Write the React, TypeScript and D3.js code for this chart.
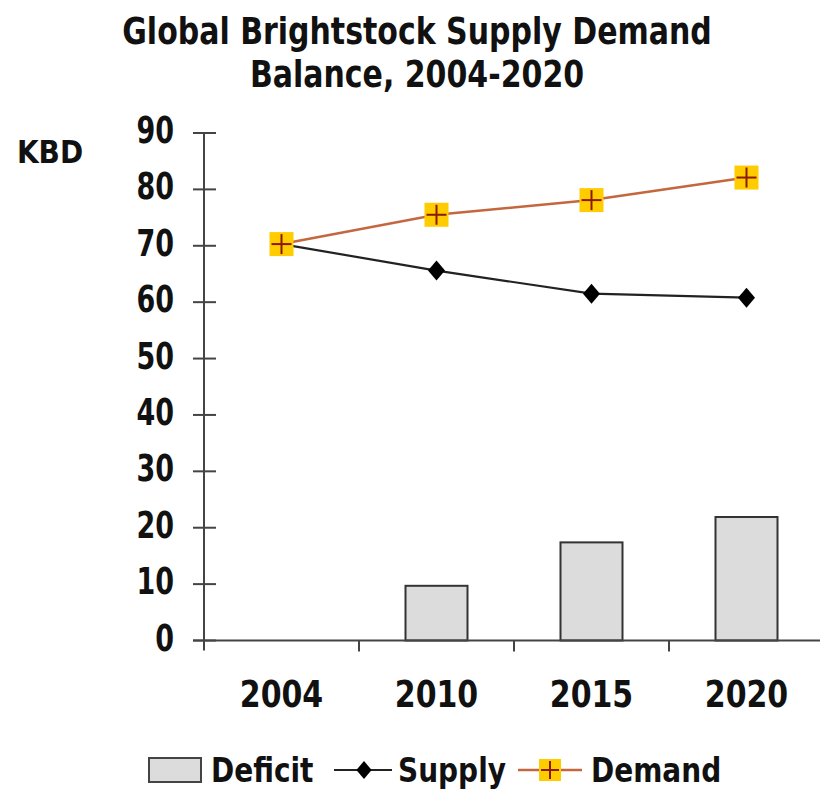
import React from "react";
import { scaleBand, scaleLinear, line } from "d3";

const years = ["2004", "2010", "2015", "2020"];
const deficit = [0, 9.7, 17.4, 21.9];
const supply = [70.3, 65.6, 61.5, 60.8];
const demand = [70.3, 75.5, 78.1, 82.1];
const yTicks = [0, 10, 20, 30, 40, 50, 60, 70, 80, 90];

const FONT = "'DejaVu Sans', Verdana, sans-serif";
const DEMAND_LINE = "#c4673f";
const GOLD = "#ffcc00";
const CROSS = "#8b1a00";

// stretched text, the reference is taller than it is wide
function Txt({ x, y, size, sy, anchor = "start", children }: any) {
  return (
    <text
      transform={`translate(${x},${y}) scale(1,${sy})`}
      fontSize={size}
      fontWeight="bold"
      fontFamily={FONT}
      textAnchor={anchor}
      fill="#111"
    >
      {children}
    </text>
  );
}

function Diamond({ x, y, r = 10 }: { x: number; y: number; r?: number }) {
  return <path d={`M${x},${y - r}L${x + r * 0.85},${y}L${x},${y + r}L${x - r * 0.85},${y}Z`} fill="#000" />;
}

function CrossBox({ x, y, s = 12 }: { x: number; y: number; s?: number }) {
  return (
    <g>
      <rect x={x - s} y={y - s} width={s * 2} height={s * 2} fill={GOLD} />
      <line x1={x - s + 2} x2={x + s - 2} y1={y} y2={y} stroke={CROSS} strokeWidth={2} />
      <line x1={x} x2={x} y1={y - s + 2} y2={y + s - 2} stroke={CROSS} strokeWidth={2} />
    </g>
  );
}

export default function App() {
  const x = scaleBand().domain(years).range([204, 824]);
  const y = scaleLinear().domain([0, 90]).range([640.5, 133]);
  const bw = x.bandwidth() * 0.4;
  const cx = (k: string) => x(k)! + x.bandwidth() / 2;

  const mk = line<number>()
    .x((_, i) => cx(years[i]))
    .y((d) => y(d));

  return (
    <svg width={820} height={789} style={{ position: "absolute", left: 0, top: 0, background: "#fff" }}>
      {/* Title */}
      <Txt x={417} y={44} size={30} sy={1.25} anchor="middle">Global Brightstock Supply Demand</Txt>
      <Txt x={417} y={87} size={30} sy={1.25} anchor="middle">Balance, 2004-2020</Txt>
      <Txt x={50} y={163} size={28} sy={1.15} anchor="middle">KBD</Txt>

      {/* Bars */}
      {deficit.map((d, i) =>
        d > 0 ? (
          <rect
            key={i}
            x={cx(years[i]) - bw / 2}
            y={y(d)}
            width={bw}
            height={y(0) - y(d)}
            fill="#dcdcdc"
            stroke="#333"
            strokeWidth={2}
          />
        ) : null
      )}

      {/* Axes */}
      <g stroke="#444" strokeWidth={2}>
        <line x1={204} x2={204} y1={y(90)} y2={y(0) + 10} />
        <line x1={193} x2={824} y1={y(0)} y2={y(0)} />
        {yTicks.map((t) => (
          <line key={t} x1={193} x2={216} y1={y(t)} y2={y(t)} />
        ))}
        {years.slice(1).map((k) => (
          <line key={k} x1={x(k)!} x2={x(k)!} y1={y(0)} y2={y(0) + 11} />
        ))}
      </g>
      {yTicks.map((t) => (
        <Txt key={t} x={174} y={y(t) + 10} size={27} sy={1.35} anchor="end">{t}</Txt>
      ))}
      {years.map((k) => (
        <Txt key={k} x={cx(k)} y={707} size={30} sy={1.23} anchor="middle">{k}</Txt>
      ))}

      {/* Lines */}
      <path d={mk(supply)!} fill="none" stroke="#222" strokeWidth={2.2} />
      <path d={mk(demand)!} fill="none" stroke={DEMAND_LINE} strokeWidth={2.5} />
      {supply.map((d, i) => (i > 0 ? <Diamond key={i} x={cx(years[i])} y={y(d)} /> : null))}
      {demand.map((d, i) => (
        <CrossBox key={i} x={cx(years[i])} y={y(d)} />
      ))}

      {/* Legend */}
      <rect x={149} y={758} width={52} height={24} fill="#dcdcdc" stroke="#444" strokeWidth={2} />
      <Txt x={211} y={782} size={28} sy={1.2}>Deficit</Txt>
      <line x1={334} x2={392} y1={770} y2={770} stroke="#222" strokeWidth={2} />
      <Diamond x={364} y={770} r={9} />
      <Txt x={398} y={782} size={28} sy={1.2}>Supply</Txt>
      <line x1={518} x2={582} y1={770} y2={770} stroke={DEMAND_LINE} strokeWidth={2.5} />
      <CrossBox x={550} y={770} s={11} />
      <Txt x={591} y={782} size={28} sy={1.2}>Demand</Txt>
    </svg>
  );
}
